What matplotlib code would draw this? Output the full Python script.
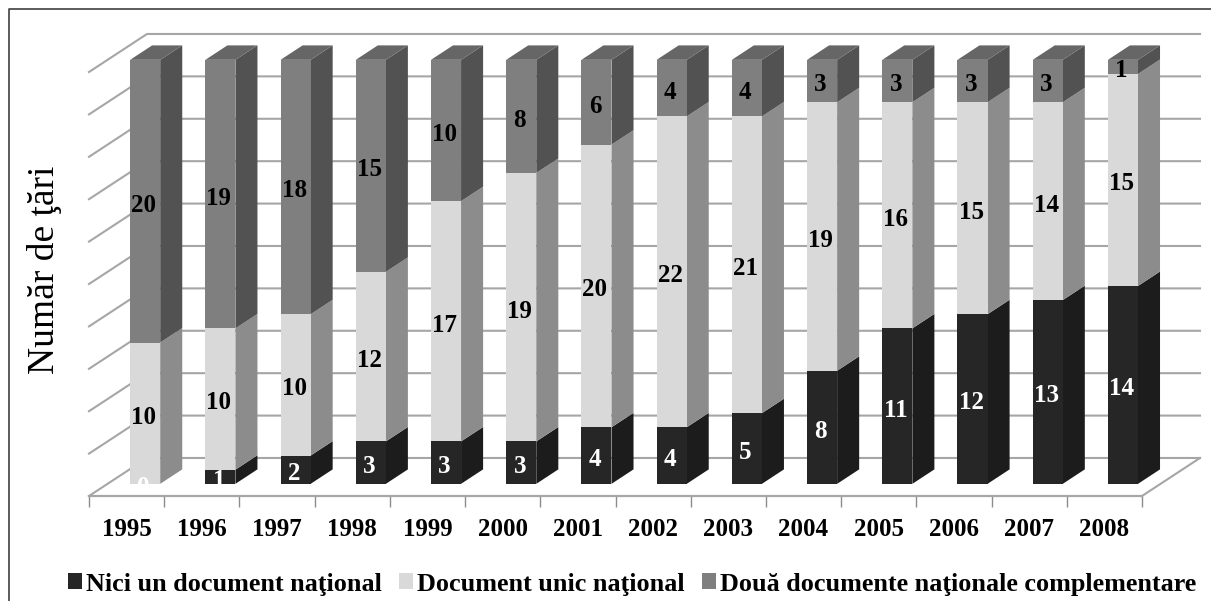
import numpy as np
import matplotlib
matplotlib.use("Agg")
import matplotlib.pyplot as plt
from matplotlib.lines import Line2D
from matplotlib.patches import Patch

years = ["1995", "1996", "1997", "1998", "1999", "2000", "2001",
         "2002", "2003", "2004", "2005", "2006", "2007", "2008"]
nici_un = [0, 1, 2, 3, 3, 3, 4, 4, 5, 8, 11, 12, 13, 14]
unic = [10, 10, 10, 12, 17, 19, 20, 22, 21, 19, 16, 15, 14, 15]
doua = [20, 19, 18, 15, 10, 8, 6, 4, 4, 3, 3, 3, 3, 1]
series_names = ["Nici un document naţional", "Document unic naţional",
                "Două documente naţionale complementare"]

# fake 3D: depth 0 is the front of the floor, depth 1 the back wall
DEPTH_X = 0.771
DEPTH_Y = 2.69
BAR_FRONT = 0.32
BAR_BACK = 0.70
BAR_W = 0.40
GRID = "#a6a6a6"

front_col = ["#262626", "#d9d9d9", "#7f7f7f"]
side_col = ["#1c1c1c", "#8c8c8c", "#525252"]
top_col = "#666666"
label_col = ["white", "black", "black"]

plt.rcParams["font.family"] = ["Liberation Serif", "DejaVu Serif"]
plt.rcParams["font.weight"] = "bold"

fig = plt.figure(figsize=(12.11, 6.01), dpi=100)
ax = fig.add_axes([89 / 1211, 1 - 496 / 601, (1142 - 89) / 1211, 424 / 601])
ax.set_xlim(-0.5, 13.5)
ax.set_ylim(0, 30)
ax.patch.set_visible(False)


def proj(x, y, d):
    return x + d * DEPTH_X, y + d * DEPTH_Y


# walls
for v in range(0, 31, 3):
    x0, y0 = proj(-0.5, v, 0)
    x1, y1 = proj(-0.5, v, 1)
    x2, y2 = proj(13.5, v, 1)
    ax.plot([x0, x1, x2], [y0, y1, y2], color=GRID, lw=1.5, zorder=1, clip_on=False)
x0, y0 = proj(13.5, 0, 0)
x1, y1 = proj(13.5, 0, 1)
ax.plot([x0, x1], [y0, y1], color=GRID, lw=1.5, zorder=1, clip_on=False)

# bars
stack = [nici_un, unic, doua]
for i in range(len(years)):
    bottom = 0
    for s, vals in enumerate(stack):
        v = vals[i]
        if v > 0:
            xr = i + BAR_W / 2
            a = proj(xr, bottom, BAR_FRONT)
            b = proj(xr, bottom, BAR_BACK)
            c = proj(xr, bottom + v, BAR_BACK)
            d = proj(xr, bottom + v, BAR_FRONT)
            ax.fill([a[0], b[0], c[0], d[0]], [a[1], b[1], c[1], d[1]],
                    color=side_col[s], lw=0, zorder=3, clip_on=False)
            fx, fy = proj(i, bottom, BAR_FRONT)
            ax.bar(fx, v, BAR_W, bottom=fy, color=front_col[s], lw=0, zorder=4, clip_on=False)
        bottom += v
    # top face
    xl = i - BAR_W / 2
    xr = i + BAR_W / 2
    pts = [proj(xl, bottom, BAR_FRONT), proj(xr, bottom, BAR_FRONT),
           proj(xr, bottom, BAR_BACK), proj(xl, bottom, BAR_BACK)]
    ax.fill([p[0] for p in pts], [p[1] for p in pts], color=top_col, lw=0, zorder=3, clip_on=False)

# value labels, drawn after the bars
for i in range(len(years)):
    bottom = 0
    for s, vals in enumerate(stack):
        v = vals[i]
        tx, ty = proj(i, bottom + v / 2, BAR_FRONT)
        ax.text(tx - 0.02, ty - 0.28, str(v), color=label_col[s], ha="center", va="center",
                fontsize=18, fontweight="bold", zorder=5, clip_on=False)
        bottom += v

# axis
for name in ["top", "left", "right"]:
    ax.spines[name].set_visible(False)
ax.spines["bottom"].set_color(GRID)
ax.spines["bottom"].set_linewidth(1.6)
ax.set_yticks([])
ax.set_xticks(np.arange(len(years)))
ax.set_xticklabels(years, fontsize=18, fontweight="bold")
ax.set_xticks(np.arange(len(years) + 1) - 0.5, minor=True)
ax.tick_params(axis="x", which="major", length=0, pad=16)
ax.tick_params(axis="x", which="minor", length=8, width=1, color="#8c8c8c")

fig.text(45 / 1211, 1 - 270 / 601, "Număr de ţări", rotation=90, ha="center", va="center",
         fontsize=27, fontweight="normal")

handles = [Patch(color=c, lw=0) for c in front_col]
fig.legend(handles, series_names, ncol=3, loc="center left",
           bbox_to_anchor=(68 / 1211, 1 - 584 / 601), frameon=False, fontsize=18.8,
           handlelength=0.55, handleheight=0.55, handletextpad=0.15, columnspacing=0.65,
           borderpad=0, borderaxespad=0)

# image frame
fig.add_artist(Line2D([8.5 / 1211, 8.5 / 1211, 1], [0, 1 - 9 / 601, 1 - 9 / 601],
                      color="#404040", lw=1.2))

fig.savefig("out.png", dpi=100)
